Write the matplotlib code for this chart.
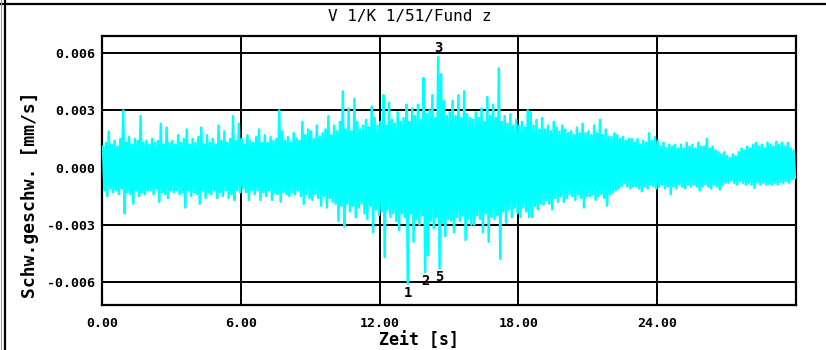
import numpy as np
import matplotlib
matplotlib.use('Agg')
import matplotlib.pyplot as plt
from matplotlib import ticker
from matplotlib.lines import Line2D

CYAN = '#00FFFF'
FONT = 'DejaVu Sans Mono'

plt.rcParams['font.family'] = FONT
plt.rcParams['font.weight'] = 'bold'
plt.rcParams['axes.unicode_minus'] = False

TITLE = 'V 1/K 1/51/Fund z'
XLABEL = 'Zeit [s]'
YLABEL = 'Schw.geschw. [mm/s]'

# signal peaks per 0.125 s window (one row = one second), in 1e-3 mm/s
BIN = 0.125
peak_hi = [
    1.1, 1.3, 1.9, 1.2, 1.4, 1.1, 1.5, 3.0,
    1.3, 1.6, 1.2, 1.5, 1.4, 2.7, 1.3, 1.4,
    1.2, 1.5, 1.3, 1.4, 2.3, 1.2, 2.1, 1.3,
    1.4, 1.2, 1.7, 1.3, 1.5, 2.0, 1.2, 1.5,
    1.3, 1.6, 2.1, 1.2, 1.7, 1.3, 1.5, 1.2,
    2.2, 1.4, 1.9, 1.3, 1.5, 2.7, 1.4, 2.3,
    1.5, 1.2, 1.7, 1.4, 1.3, 1.6, 2.0, 1.3,
    1.7, 1.3, 1.6, 1.4, 1.5, 3.0, 1.9, 1.4,
    1.6, 1.3, 1.8, 1.5, 1.4, 2.4, 1.7, 2.0,
    1.9, 1.5, 2.2, 1.6, 1.8, 2.0, 2.7, 1.7,
    2.2, 1.9, 2.4, 4.0, 2.0, 3.1, 1.9, 3.6,
    2.4, 2.0, 2.2, 2.5, 2.1, 3.2, 2.6, 2.2,
    2.4, 3.8, 2.2, 3.4, 2.5, 2.3, 2.9, 2.4,
    2.6, 3.3, 2.4, 3.1, 2.7, 3.3, 2.5, 4.7,
    2.8, 3.0, 3.8, 2.6, 5.8, 4.9, 3.5, 2.7,
    2.9, 3.5, 2.7, 3.8, 2.6, 4.0, 2.8, 2.6,
    2.5, 2.9, 2.6, 3.1, 2.4, 3.7, 2.7, 3.3,
    2.6, 5.2, 2.4, 2.7, 2.3, 2.8, 2.2, 2.5,
    2.2, 2.4, 2.1, 3.0, 2.9, 2.2, 2.5, 2.0,
    2.6, 2.0, 2.2, 1.9, 2.4, 2.1, 1.9, 2.2,
    2.0, 1.8, 1.9, 1.7, 2.1, 1.8, 2.3, 1.8,
    1.9, 1.7, 2.2, 1.8, 2.5, 1.7, 2.0, 1.6,
    1.6, 1.8, 1.7, 1.5, 1.6, 1.4, 1.5, 1.5,
    1.3, 1.5, 1.2, 1.4, 1.3, 1.8, 1.4, 1.6,
    1.4, 1.1, 1.3, 1.0, 1.2, 1.1, 1.2, 1.0,
    1.2, 1.0, 1.3, 1.1, 1.2, 1.0, 1.3, 1.1,
    1.1, 1.5, 1.0, 1.1, 0.9, 0.8, 0.7, 0.8,
    0.6, 0.5, 0.7, 0.6, 0.8, 1.0, 0.9, 1.1,
    1.0, 1.2, 1.3, 1.1, 1.2, 1.0, 1.3, 1.2,
    1.1, 1.35, 1.2, 1.3, 1.1, 1.3, 1.0, 0.9,
]
peak_lo = [
    -1.2, -1.5, -1.1, -1.3, -1.2, -1.4, -1.1, -2.4,
    -1.3, -1.4, -1.9, -1.2, -1.5, -1.3, -1.4, -1.2,
    -1.2, -1.4, -1.1, -1.8, -1.3, -1.4, -1.6, -1.2,
    -1.3, -1.2, -1.4, -1.3, -2.1, -1.2, -1.5, -1.3,
    -1.4, -1.9, -1.2, -1.6, -1.3, -1.4, -1.2, -1.6,
    -1.3, -1.5, -1.2, -1.6, -1.4, -1.7, -1.2, -1.3,
    -1.1, -1.3, -1.7, -1.2, -1.4, -1.2, -1.7, -1.3,
    -1.5, -1.2, -1.7, -1.3, -1.4, -1.8, -1.3, -1.4,
    -1.5, -1.3, -1.4, -1.2, -1.5, -1.9, -1.4, -1.6,
    -1.7, -1.4, -1.6, -2.0, -1.5, -2.1, -1.6, -1.8,
    -1.9, -2.8, -2.0, -3.1, -1.9, -2.3, -2.0, -2.6,
    -2.1, -1.9, -2.4, -2.7, -2.0, -3.4, -2.2, -2.5,
    -2.3, -4.7, -2.2, -2.6, -2.4, -2.8, -3.3, -2.4,
    -2.6, -6.1, -2.4, -3.9, -2.7, -3.0, -2.5, -5.5,
    -4.6, -2.8, -3.2, -2.6, -5.3, -2.9, -3.6, -2.7,
    -2.8, -3.4, -2.6, -2.8, -2.5, -3.8, -2.7, -3.0,
    -3.0, -2.5, -2.7, -3.4, -2.4, -3.9, -2.6, -2.7,
    -2.5, -4.8, -2.3, -2.9, -2.2, -2.6, -2.1, -2.4,
    -2.6, -2.1, -2.3, -2.6, -2.6, -2.0, -2.2, -1.9,
    -1.95, -1.7, -1.9, -2.2, -1.6, -1.8, -1.5, -1.8,
    -1.6, -1.4, -1.5, -1.7, -1.4, -1.6, -2.1, -1.5,
    -1.5, -1.4, -1.7, -1.5, -1.4, -1.6, -2.0, -1.4,
    -1.3, -1.2, -1.1, -1.0, -0.8, -1.0, -1.1, -1.0,
    -1.0, -1.1, -1.25, -1.0, -1.1, -0.9, -1.0, -1.1,
    -1.0, -0.9, -1.1, -1.0, -1.4, -1.0, -1.1, -0.9,
    -1.0, -1.1, -0.9, -1.0, -0.9, -1.0, -1.2, -1.0,
    -0.9, -1.0, -1.1, -0.9, -1.0, -1.15, -0.9, -0.8,
    -0.8, -0.7, -0.8, -0.9, -0.7, -0.8, -0.9, -0.8,
    -0.9, -1.07, -0.8, -0.9, -0.8, -0.9, -0.85, -0.9,
    -0.8, -0.9, -0.75, -0.8, -0.7, -0.8, -0.6, -0.55,
]

min_labels = ['1', '2', '5']
max_labels = ['3']

x_ticks = [0, 6, 12, 18, 24]
y_ticks = [-0.006, -0.003, 0.0, 0.003, 0.006]

hi = np.array(peak_hi) * 1e-3
lo = np.array(peak_lo) * 1e-3
t0 = np.arange(len(hi)) * BIN
t_hi = t0 + 0.03
t_lo = t0 + 0.09

# zigzag through the window peaks
xs = np.empty(2 * len(hi))
ys = np.empty(2 * len(hi))
xs[0::2], xs[1::2] = t_hi, t_lo
ys[0::2], ys[1::2] = hi, lo

fig = plt.figure(figsize=(8.26, 3.5), dpi=100)
ax = fig.add_axes([0.1239, 0.1286, 0.8395, 0.7686])

ax.plot(xs, ys, color=CYAN, lw=1.8, zorder=3)

for lab, i in zip(min_labels, np.argsort(lo)[:len(min_labels)]):
    ax.annotate(lab, (t_lo[i], lo[i]), xytext=(0, -6.5), textcoords='offset points',
                ha='center', va='center', fontsize=10, fontweight='bold', zorder=5)
for lab, i in zip(max_labels, np.argsort(hi)[::-1][:len(max_labels)]):
    ax.annotate(lab, (t_hi[i], hi[i]), xytext=(0, 6.5), textcoords='offset points',
                ha='center', va='center', fontsize=10, fontweight='bold', zorder=5)

ax.set_xlim(0, 30)
ax.set_ylim(-0.00722, 0.00691)
ax.set_xticks(x_ticks)
ax.set_yticks(y_ticks)
ax.xaxis.set_major_formatter(ticker.FormatStrFormatter('%.2f'))
ax.yaxis.set_major_formatter(ticker.FormatStrFormatter('%.3f'))
ax.tick_params(length=0, labelsize=9.5)
ax.tick_params(axis='x', pad=9)
ax.tick_params(axis='y', pad=5)
ax.grid(True, color='black', lw=1.4, zorder=1)
ax.set_axisbelow(True)
for sp in ax.spines.values():
    sp.set_linewidth(1.6)

ax.set_xlabel(XLABEL, fontsize=12, fontweight='bold')
ax.xaxis.label.set_va('center')
ax.xaxis.set_label_coords(0.457, -0.134)
ax.set_ylabel(YLABEL, fontsize=13, fontweight='bold')
ax.yaxis.label.set_va('center')
ax.yaxis.set_label_coords(-0.104, 0.41)

fig.text(0.496, 1 - 17 / 350, TITLE, ha='center', va='center',
         fontsize=11.5, fontweight='normal')

# outer frame on top and left
fig.add_artist(Line2D([0, 1], [1 - 4 / 350] * 2, transform=fig.transFigure,
                      color='black', lw=1.6))
fig.add_artist(Line2D([5 / 826] * 2, [0, 1], transform=fig.transFigure,
                      color='black', lw=1.6))
fig.add_artist(Line2D([1 / 826] * 2, [0, 1], transform=fig.transFigure,
                      color='#999999', lw=0.8))

fig.savefig('out.png', dpi=100)
